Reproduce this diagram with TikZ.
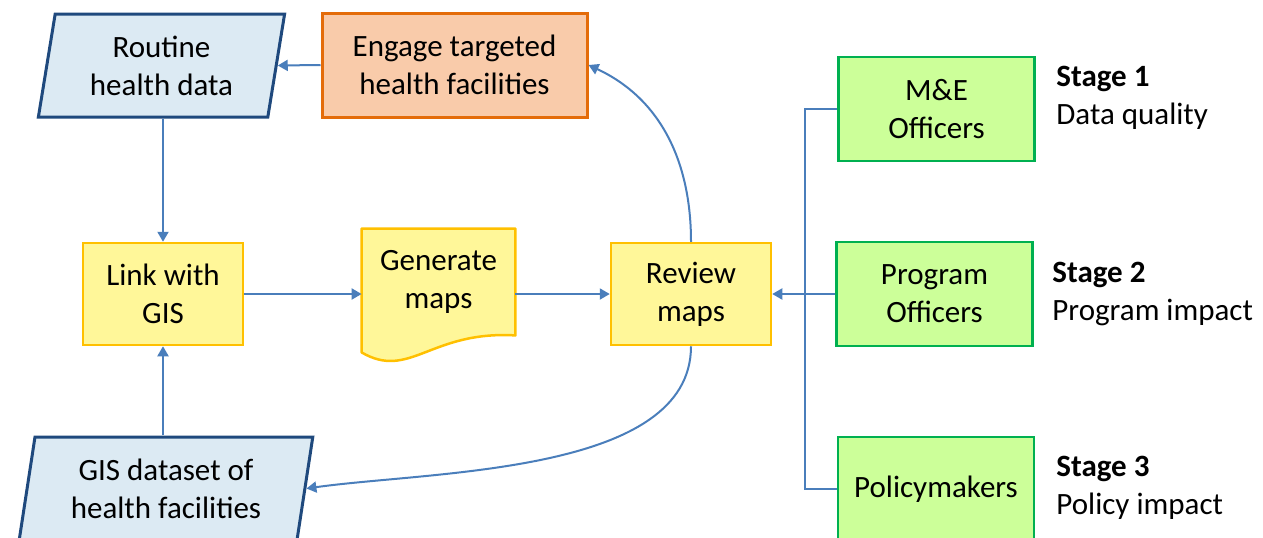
\documentclass[tikz,border=0pt]{standalone}
\usepackage{fontspec}
\setmainfont{Carlito}
\usepackage{tikz}
\usepackage{xcolor}
\usetikzlibrary{shapes.geometric,arrows.meta,backgrounds}
\definecolor{flowblue}{HTML}{4A7EBB}
\definecolor{navyline}{HTML}{1F497D}
\definecolor{paleblue}{HTML}{DCEAF3}
\definecolor{orangeline}{HTML}{E46C0A}
\definecolor{paleorange}{HTML}{F9CBAA}
\definecolor{goldline}{HTML}{FFC000}
\definecolor{paleyellow}{HTML}{FFF799}
\definecolor{greenline}{HTML}{00B050}
\definecolor{palegreen}{HTML}{CCFF99}
\tikzset{
    data-box/.style = {draw=navyline, fill=paleblue, line width=1.5pt, trapezium, trapezium left angle=80, trapezium right angle=100, trapezium stretches=true, minimum width=123.5pt, minimum height=51.5pt, align=center, inner sep=2pt},
    engage-box/.style = {draw=orangeline, fill=paleorange, line width=1.5pt, rectangle, minimum width=132.5pt, minimum height=52pt, align=center},
    step-box/.style = {draw=goldline, fill=paleyellow, line width=1.25pt, rectangle, minimum width=80pt, minimum height=51pt, align=center},
    doc-text/.style = {rectangle, minimum width=76.5pt, minimum height=53pt, align=center},
    doc-shape/.style = {draw=goldline, fill=paleyellow, line width=1.25pt, line join=round},
    role-box/.style = {draw=greenline, fill=palegreen, line width=1.25pt, rectangle, minimum width=98pt, minimum height=52pt, align=center},
    stage-text/.style = {anchor=west, align=left, inner sep=0pt},
    flow-line/.style = {draw=flowblue, line width=1pt},
    flow-arrow/.style = {flow-line, -{Triangle[length=5pt,width=5.5pt]}},
}
\begin{document}
\begin{tikzpicture}[x=0.5pt, y=-0.5pt, font=\fontsize{15.5}{19}\selectfont]
\useasboundingbox (0,0) rectangle (1263,537);
\clip (0,0) rectangle (1263,537);

% data sources
\node[data-box] (routine) at (161.5,65.5) {Routine\\health data};
\node[data-box, minimum width=147pt] (gis-data) at (166,488.5) {GIS dataset of\\health facilities};

% process
\node[engage-box] (engage) at (454.5,65) {Engage targeted\\health facilities};
\node[step-box] (link) at (163,294) {Link with\\GIS};
\node[doc-text] (generate) at (438.5,282) {Generate\\maps};
\node[step-box] (review) at (691,294) {Review\\maps};
\begin{scope}[on background layer]
\draw[doc-shape] (generate.north west) -- (generate.north east) -- (generate.south east)
    .. controls +(-85,-5) and +(48,28) .. ([yshift=-8.5pt]generate.south west) -- cycle;
\end{scope}

% users
\node[role-box] (me-officers) at (936.5,109) {M\&E\\Officers};
\node[role-box] (program-officers) at (934.5,294) {Program\\Officers};
\node[role-box] (policymakers) at (936,489) {Policymakers};

\node[stage-text] (stage-one) at (1056,98) {\textbf{Stage 1}\\Data quality};
\node[stage-text] (stage-two) at (1052,294) {\textbf{Stage 2}\\Program impact};
\node[stage-text] (stage-three) at (1056,488) {\textbf{Stage 3}\\Policy impact};

% connectors
\coordinate (bus) at (805,294);
\draw[flow-arrow] (engage.west) -- (routine.east);
\draw[flow-arrow] (link.north |- routine.south) -- (link.north);
\draw[flow-arrow] (link.south |- gis-data.north) -- (link.south);
\draw[flow-arrow] (link.east) -- (generate.west |- link.east);
\draw[flow-arrow] (generate.east |- review.west) -- (review.west);
\draw[flow-arrow] (review.north) to[out=90, in=-25] (engage.east);
\draw[flow-arrow] (review.south) to[out=-90, in=8, looseness=0.8] (gis-data.east);
\draw[flow-line] (me-officers.west) -| (bus) |- (policymakers.west);
\draw[flow-arrow] (program-officers.west) -- (review.east);
\end{tikzpicture}
\end{document}
